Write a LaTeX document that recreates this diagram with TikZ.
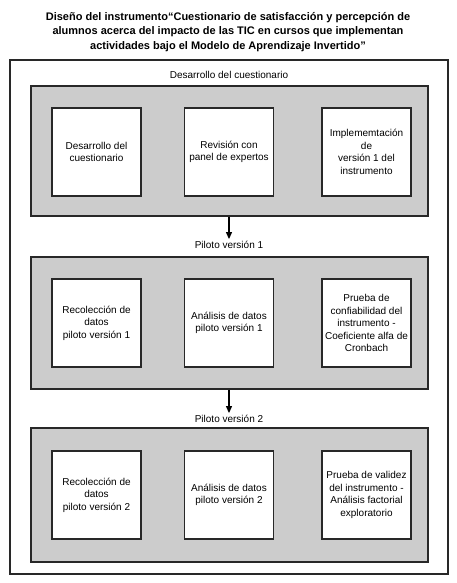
\documentclass[tikz,border=0pt]{standalone}
\usepackage{fontspec}
\setmainfont{Liberation Sans}
\usetikzlibrary{arrows.meta}
\definecolor{panelgray}{RGB}{204,204,204}
\definecolor{edge}{RGB}{40,40,40}
\tikzset{
  outerbox/.style={draw=edge, line width=1.1pt, fill=white, minimum width=438pt, minimum height=514pt, inner sep=0pt},
  panel/.style={draw=edge, line width=1.1pt, fill=panelgray, minimum width=397pt, inner sep=0pt},
  stepbox/.style={draw=edge, line width=1.1pt, fill=white, minimum width=89pt, minimum height=88pt, inner sep=1pt, align=center, font=\fontsize{10}{12.5}\selectfont},
  lbl/.style={font=\fontsize{10}{12}\selectfont, inner sep=2pt},
  ttl/.style={font=\fontsize{11}{14.5}\selectfont\bfseries, align=center},
  conn/.style={draw=black, line width=1.1pt, -{Triangle[width=6pt,length=7pt]}}
}
\begin{document}
\begin{tikzpicture}[x=1pt,y=-1pt]
\useasboundingbox (0,0) rectangle (456,583);
\node[ttl] (title) at (228,32) {Diseño del instrumento“Cuestionario de satisfacción y percepción de\\alumnos acerca del impacto de las TIC en cursos que implementan\\actividades bajo el Modelo de Aprendizaje Invertido”};
\node[outerbox] (outer) at (229,317) {};
\node[lbl] (l0) at (229,75) {Desarrollo del cuestionario};
\node[panel, minimum height=130pt] (g1) at (229.5,151) {};
\node[stepbox] (a1) at (96.5,152) {Desarrollo del\\cuestionario};
\node[stepbox] (a2) at (229,152) {Revisión con\\panel de expertos};
\node[stepbox] (a3) at (366.5,152) {Implememtación\\de\\versión 1 del\\instrumento};
\node[lbl] (l1) at (229,245) {Piloto versión 1};
\node[panel, minimum height=132pt] (g2) at (229.5,323) {};
\node[stepbox] (b1) at (96.5,323) {Recolección de\\datos\\piloto versión 1};
\node[stepbox] (b2) at (229,323) {Análisis de datos\\piloto versión 1};
\node[stepbox] (b3) at (366.5,323) {Prueba de\\confiabilidad del\\instrumento -\\Coeficiente alfa de\\Cronbach};
\node[lbl] (l2) at (229,419) {Piloto versión 2};
\node[panel, minimum height=134pt] (g3) at (229.5,495) {};
\node[stepbox] (c1) at (96.5,495) {Recolección de\\datos\\piloto versión 2};
\node[stepbox] (c2) at (229,495) {Análisis de datos\\piloto versión 2};
\node[stepbox] (c3) at (366.5,495) {Prueba de validez\\del instrumento -\\Análisis factorial\\exploratorio};
\draw[conn] (g1.south -| l1.north) -- (l1.north);
\draw[conn] (g2.south -| l2.north) -- (l2.north);
\end{tikzpicture}
\end{document}
